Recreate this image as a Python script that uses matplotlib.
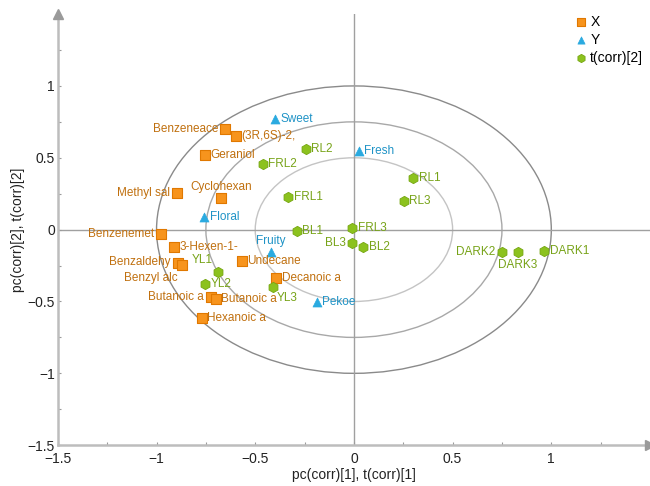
import numpy as np
import matplotlib
matplotlib.use("Agg")
import matplotlib.pyplot as plt
from matplotlib.patches import Ellipse

plt.rcParams['font.family'] = ['Liberation Sans', 'DejaVu Sans']

# X variables (volatile compounds)
x_names = ["Benzeneace", "(3R,6S)-2,", "Geraniol", "Methyl sal", "Cyclohexan",
           "Benzenemet", "3-Hexen-1-", "Benzaldehy", "Benzyl alc", "Undecane",
           "Decanoic a", "Butanoic a", "Butanoic a", "Hexanoic a"]
x_pc1 = [-0.653, -0.599, -0.756, -0.898, -0.672, -0.979, -0.910, -0.893, -0.871,
         -0.569, -0.395, -0.724, -0.700, -0.771]
x_pc2 = [0.700, 0.650, 0.520, 0.253, 0.221, -0.030, -0.123, -0.233, -0.246,
         -0.216, -0.340, -0.472, -0.486, -0.616]

# Y variables (sensory attributes)
y_names = ["Sweet", "Fresh", "Floral", "Fruity", "Pekoe"]
y_pc1 = [-0.400, 0.025, -0.758, -0.420, -0.189]
y_pc2 = [0.772, 0.544, 0.086, -0.154, -0.505]

# Scores of the samples
t_names = ["RL2", "FRL2", "FRL1", "BL1", "FRL3", "BL3", "BL2", "RL1", "RL3",
           "YL1", "YL2", "YL3", "DARK2", "DARK3", "DARK1"]
t_1 = [-0.245, -0.462, -0.333, -0.290, -0.008, -0.008, 0.046, 0.300, 0.252,
       -0.687, -0.754, -0.410, 0.751, 0.829, 0.964]
t_2 = [0.558, 0.458, 0.225, -0.007, 0.012, -0.095, -0.123, 0.358, 0.202,
       -0.298, -0.375, -0.398, -0.154, -0.158, -0.147]

xticks = [-1.5, -1, -0.5, 0, 0.5, 1]
yticks = [-1.5, -1, -0.5, 0, 0.5, 1]
radii = [1.0, 0.75, 0.5]

X_FACE, X_EDGE, X_TEXT = "#F7941D", "#E07800", "#C0700F"
Y_FACE, Y_TEXT = "#2AAAE0", "#1F93C6"
T_FACE, T_EDGE, T_TEXT = "#8CC21E", "#76A612", "#77A318"

# label placement (offset in points, ha, va)
RIGHT = ((4, 0), "left", "center")
LEFT = ((-5, 0), "right", "center")
x_place = {0: LEFT, 3: LEFT, 4: ((0, 8), "center", "center"), 5: LEFT,
           7: ((-5, 1), "right", "center"), 8: ((-3, -9.5), "right", "center"),
           11: LEFT}
y_place = {3: ((0, 8), "center", "center")}
t_place = {5: LEFT, 9: ((-4, 9), "right", "center"), 12: LEFT,
           13: ((0, -9), "center", "center"), 11: ((3, -8), "left", "center")}

fig = plt.figure(figsize=(6.5, 4.86), dpi=100)
ax = fig.add_axes([0.089, 0.084, 0.911, 0.887])
ax.set_xlim(-1.5, 1.5)
ax.set_ylim(-1.5, 1.5)

for r, c in zip(radii, ["#8a8a8a", "#a8a8a8", "#c4c4c4"]):
    ax.add_patch(Ellipse((0, 0), 2 * r, 2 * r, fill=False, edgecolor=c, lw=1.0, zorder=1))
ax.axhline(0, color="#a0a0a0", lw=1.0, zorder=1)
ax.axvline(0, color="#a0a0a0", lw=1.0, zorder=1)

ax.scatter(x_pc1, x_pc2, marker="s", s=42, facecolor=X_FACE, edgecolor=X_EDGE,
           linewidth=0.8, zorder=3, label="X")
ax.scatter(y_pc1, y_pc2, marker="^", s=42, facecolor=Y_FACE, edgecolor=Y_FACE,
           linewidth=0.5, zorder=3, label="Y")
ax.scatter(t_1, t_2, marker="h", s=55, facecolor=T_FACE, edgecolor=T_EDGE,
           linewidth=0.6, zorder=3, label="t(corr)[2]")


def annotate(names, xs, ys, color, place):
    for i, (n, xv, yv) in enumerate(zip(names, xs, ys)):
        off, ha, va = place.get(i, RIGHT)
        ax.annotate(n, (xv, yv), xytext=off, textcoords="offset points",
                    ha=ha, va=va, fontsize=8.5, color=color, zorder=4)


annotate(x_names, x_pc1, x_pc2, X_TEXT, x_place)
annotate(y_names, y_pc1, y_pc2, Y_TEXT, y_place)
annotate(t_names, t_1, t_2, T_TEXT, t_place)

for side in ["top", "right"]:
    ax.spines[side].set_visible(False)
for side in ["left", "bottom"]:
    ax.spines[side].set_color("#bdbdbd")
    ax.spines[side].set_linewidth(1.8)
ax.plot(1, 0, ">", transform=ax.transAxes, clip_on=False, color="#9a9a9a", ms=7, zorder=5)
ax.plot(0, 1, "^", transform=ax.transAxes, clip_on=False, color="#9a9a9a", ms=7, zorder=5)

ax.set_xticks(xticks)
ax.set_yticks(yticks)
ax.set_xticklabels(["\u22121.5", "\u22121", "\u22120.5", "0", "0.5", "1"])
ax.set_yticklabels(["\u22121.5", "\u22121", "\u22120.5", "0", "0.5", "1"])
ax.set_xticks(np.arange(-1.25, 1.5, 0.5), minor=True)
ax.set_yticks(np.arange(-1.25, 1.5, 0.5), minor=True)
ax.tick_params(which="both", direction="in", length=2.5, width=0.8, color="#9a9a9a",
               labelsize=10, labelcolor="#222222", pad=2)
ax.tick_params(axis="x", pad=5)

ax.set_xlabel("pc(corr)[1], t(corr)[1]", fontsize=10, color="#222222", labelpad=1)
ax.set_ylabel("pc(corr)[2], t(corr)[2]", fontsize=10, color="#222222", labelpad=2)

leg = ax.legend(loc="upper left", bbox_to_anchor=(0.864, 1.005), frameon=False,
                fontsize=10, handletextpad=0.1, handlelength=1.2, labelspacing=0.3,
                markerscale=0.8, borderaxespad=0.0, borderpad=0.2)

fig.savefig("out.png", dpi=100)
